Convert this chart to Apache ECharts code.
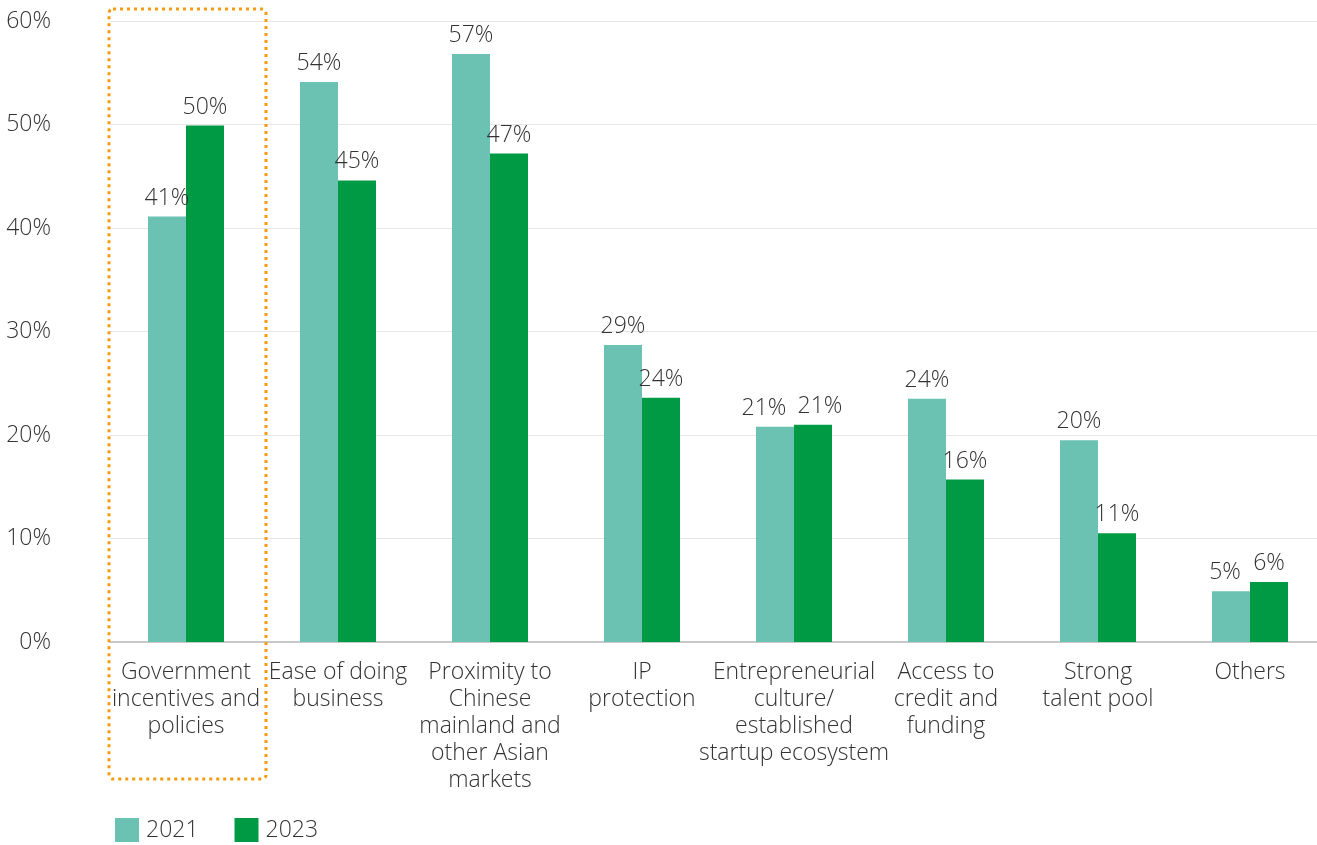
<!DOCTYPE html>
<html><head><meta charset="utf-8">
<script src="https://cdn.jsdelivr.net/npm/echarts@6/dist/echarts.min.js"></script>
<style>html,body{margin:0;padding:0;background:#fff}#c{width:1317px;height:845px}</style>
</head><body><div id="c"></div>
<script>
const categories = ['Government\nincentives and\npolicies','Ease of doing\nbusiness','Proximity to\nChinese\nmainland and\nother Asian\nmarkets','IP\nprotection','Entrepreneurial\nculture/\nestablished\nstartup ecosystem','Access to\ncredit and\nfunding','Strong\ntalent pool','Others'];
const values2021 = [41.1, 54.1, 56.8, 28.7, 20.8, 23.5, 19.5, 4.9];
const values2023 = [49.9, 44.6, 47.2, 23.6, 21.0, 15.7, 10.5, 5.8];
const yTicks = [0, 10, 20, 30, 40, 50, 60];

const FONT = 'Open Sans';
const TXT = '#333333';
const FS = 23;
const chart = echarts.init(document.getElementById('c'));
const lbl = {show:true, position:'top', distance:7, color:TXT, fontFamily:FONT, fontWeight:300, fontSize:FS,
  formatter: p => Math.round(p.value) + '%'};
// nudge labels apart where neighbouring bars are of near-equal height
const nudge2021 = {4:[-11,0], 7:[-6,0]};
const nudge2023 = {4:[7,0]};
const mk = (vals, nudge) => vals.map((v,i) => nudge[i] ? {value:v, label:{offset:nudge[i]}} : v);
chart.setOption({
  animation:false,
  grid:{left:110, top:21, width:1216, height:621, containLabel:false, outerBoundsMode:'none'},
  legend:{left:115, top:818, padding:0, itemWidth:24, itemHeight:24, itemGap:36, icon:'rect',
    textStyle:{color:TXT, fontFamily:FONT, fontWeight:300, fontSize:FS, padding:[0,0,0,2]},
    data:['2021','2023']},
  xAxis:{type:'category', data:categories,
    axisLine:{lineStyle:{color:'#c8c8c8', width:2}}, axisTick:{show:false},
    axisLabel:{interval:0, margin:17, color:TXT, fontFamily:FONT, fontWeight:300, fontSize:FS, lineHeight:27}},
  yAxis:{type:'value', min:yTicks[0], max:yTicks[yTicks.length-1], interval:10,
    axisLabel:{formatter:'{value}%', color:TXT, fontFamily:FONT, fontWeight:300, fontSize:FS, margin:59},
    splitLine:{lineStyle:{color:'#e6e6e6'}}, axisLine:{show:false}, axisTick:{show:false}},
  series:[
    {name:'2021', type:'bar', data:mk(values2021, nudge2021), barWidth:38, barGap:'0%', itemStyle:{color:'#6bc2b3'}, label:lbl},
    {name:'2023', type:'bar', data:mk(values2023, nudge2023), barWidth:38, barGap:'0%', itemStyle:{color:'#009a44'}, label:lbl}
  ]
});
// highlight box around first category, positioned from the axis scale
const c0 = chart.convertToPixel({xAxisIndex:0}, categories[0]);
const c1 = chart.convertToPixel({xAxisIndex:0}, categories[1]);
const half = (c1 - c0) / 2;
chart.setOption({graphic:[{type:'rect', shape:{x:c0-half-1, y:9, width:2*half+5, height:770, r:4},
  style:{fill:'none', stroke:'#f39c12', lineWidth:3, lineDash:[3,4]}, z:10}]});
</script></body></html>
